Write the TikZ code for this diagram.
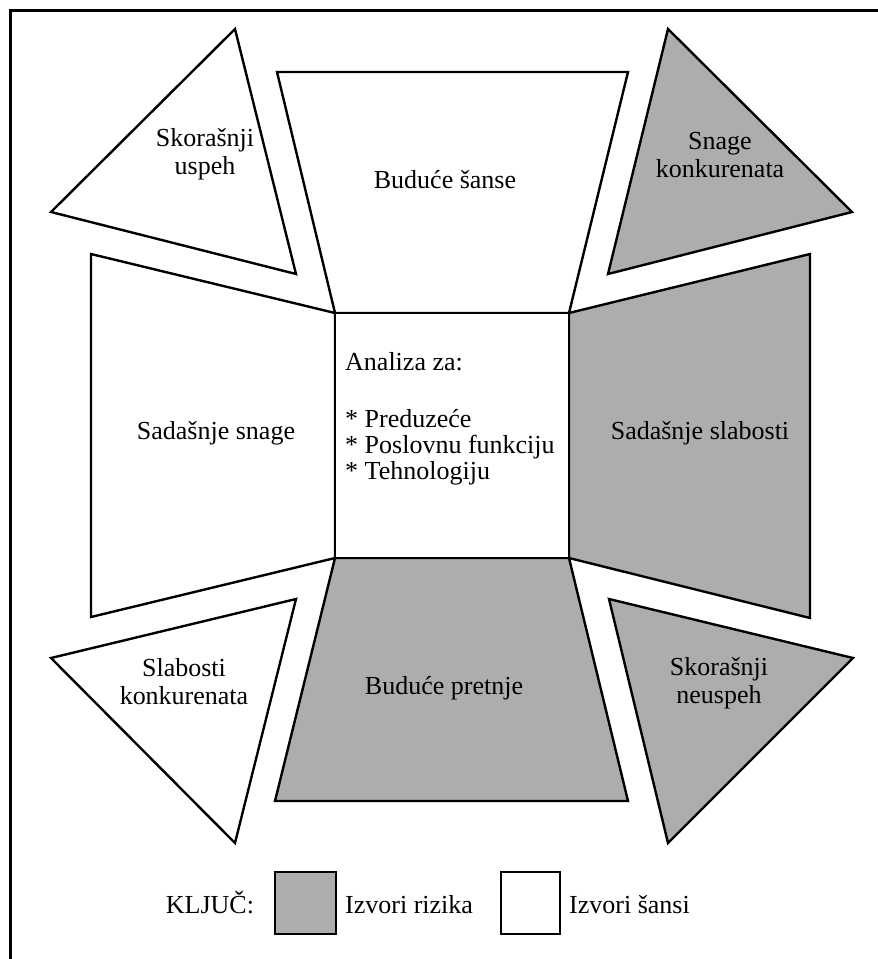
\documentclass[tikz,border=0pt]{standalone}
\usepackage{fontspec}
\setmainfont{Liberation Serif}
\usetikzlibrary{positioning}

\begin{document}
\begin{tikzpicture}[
    x=1pt, y=-1pt,
    every node/.style={
        font=\fontsize{26}{28}\selectfont,
        inner sep=0pt
    },
    fieldtext/.style={align=center},
    risk/.style={draw, fill=black!32, line width=2.4pt},
    chance/.style={draw, fill=white, line width=2.4pt}
]

\useasboundingbox (0,0) rectangle (878,959);

% frame
\coordinate (fbl) at (10,959);
\coordinate (ftl) at (10,10);
\coordinate (ftr) at (878,10);
\draw[line width=3pt] (fbl) -- (ftl) -- (ftr);

% central square
\coordinate (cnw) at (335,313);
\coordinate (cne) at (569,313);
\coordinate (cse) at (569,558);
\coordinate (csw) at (335,558);

% trapezoids
\draw[chance] (277,72) -- (628,72) -- (cne) -- (cnw) -- cycle;
\draw[chance] (91,254) -- (cnw) -- (csw) -- (91,617) -- cycle;
\draw[risk] (810,254) -- (810,618) -- (cse) -- (cne) -- cycle;
\draw[risk] (csw) -- (cse) -- (628,801) -- (275,801) -- cycle;
\draw[chance] (cnw) rectangle (cse);

% triangles
\draw[chance] (235,29) -- (51,212) -- (296,274) -- cycle;
\draw[risk] (668,29) -- (852,212) -- (608,274) -- cycle;
\draw[chance] (51,658) -- (296,599) -- (235,843) -- cycle;
\draw[risk] (609,599) -- (853,658) -- (668,843) -- cycle;

% labels
\node[fieldtext] (uspeh) at (205,154) {Skorašnji\\uspeh};
\node[fieldtext] (sanse) at (445,180) {Buduće šanse};
\node[fieldtext] (konk) at (720,155) {Snage\\konkurenata};
\node[fieldtext] (snage) at (216,433) {Sadašnje snage};
\node[fieldtext] (slabosti) at (700,433) {Sadašnje slabosti};
\node[fieldtext] (pretnje) at (444,688) {Buduće pretnje};
\node[fieldtext] (slabkonk) at (184,682) {Slabosti\\konkurenata};
\node[fieldtext] (neuspeh) at (719,683) {Skorašnji\\neuspeh};

\node[anchor=base west] (analiza) at (345,370) {Analiza za:};
\node[anchor=base west] (pred) at (345,427) {* Preduzeće};
\node[anchor=base west] (posl) at (345,453) {* Poslovnu funkciju};
\node[anchor=base west] (tehn) at (345,479) {* Tehnologiju};

% key
\node[anchor=base] (kljuc) at (210,913) {KLJUČ:};
\draw[risk, line width=2pt] (275,872) coordinate (krnw) rectangle (336,934);
\node[anchor=base west] (rizik) at (345,913) {Izvori rizika};
\draw[chance, line width=2pt] (501,872) coordinate (ksnw) rectangle (560,934);
\node[anchor=base west] (sansi) at (569,913) {Izvori šansi};

\end{tikzpicture}
\end{document}
